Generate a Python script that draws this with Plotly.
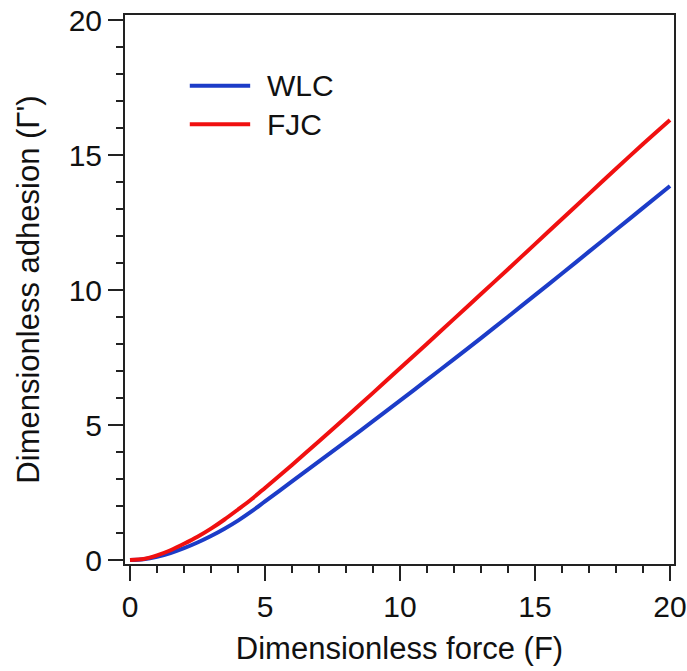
import plotly.graph_objects as go

# Dimensionless force F (sample points along the curves)
force = [0, 0.5, 1, 1.5, 2, 2.5, 3, 3.5, 4, 4.5, 5, 6, 7, 8, 9, 10,
         11, 12, 13, 14, 15, 16, 17, 18, 19, 20]

# Dimensionless adhesion for the worm-like chain model
wlc = [0, 0.03, 0.12, 0.26, 0.44, 0.65, 0.89, 1.16, 1.46, 1.8, 2.17, 2.91, 3.65, 4.39, 5.14, 5.9,
       6.67, 7.44, 8.22, 9.01, 9.81, 10.61, 11.42, 12.23, 13.04, 13.85]

# Dimensionless adhesion for the freely jointed chain model
fjc = [0, 0.04, 0.17, 0.36, 0.6, 0.86, 1.16, 1.5, 1.87, 2.25, 2.67, 3.52, 4.4, 5.29, 6.19, 7.1,
       8.01, 8.93, 9.85, 10.77, 11.7, 12.63, 13.56, 14.49, 15.41, 16.3]

series_names = ["WLC", "FJC"]
series_colors = ["#1c3cc8", "#f01010"]

x_ticks = [0, 5, 10, 15, 20]
y_ticks = [0, 5, 10, 15, 20]

FONT = "Liberation Sans, Arial, sans-serif"

fig = go.Figure()
for name, vals, col in zip(series_names, [wlc, fjc], series_colors):
    fig.add_trace(go.Scatter(
        x=force, y=vals, mode="lines", name=name,
        line=dict(color=col, width=4, shape="spline", smoothing=0.8),
        showlegend=False,
    ))

axis_common = dict(
    showline=True, linecolor="#222222", linewidth=2, mirror=True,
    ticks="outside", ticklen=15, tickwidth=2, tickcolor="#222222",
    minor=dict(ticks="outside", ticklen=7, tickwidth=2, tickcolor="#222222", dtick=1),
    showgrid=False, zeroline=False,
    tickfont=dict(family=FONT, size=30, color="#111111"),
)

fig.update_xaxes(
    range=[-5 / 27, 20 + 4 / 27], tickvals=x_ticks,
    title=dict(text="Dimensionless force (F)", font=dict(family=FONT, size=31, color="#111111"),
               standoff=15),
    **axis_common,
)
fig.update_yaxes(
    range=[-4 / 27, 20 + 5 / 27], tickvals=y_ticks,
    title=dict(text="Dimensionless adhesion (Γ')", font=dict(family=FONT, size=31, color="#111111"),
               standoff=20),
    **axis_common,
)

# Hand-drawn legend: a short line sample plus a label for each series
legend_y = [0.871, 0.801]
for name, col, yy in zip(series_names, series_colors, legend_y):
    fig.add_shape(type="line", xref="paper", yref="paper",
                  x0=0.118, x1=0.228, y0=yy, y1=yy,
                  line=dict(color=col, width=4))
    fig.add_annotation(xref="paper", yref="paper", x=0.255, y=yy,
                       text=name, showarrow=False, xanchor="left", yanchor="middle",
                       font=dict(family=FONT, size=30, color="#111111"))

fig.update_layout(
    width=687, height=671,
    margin=dict(l=125, r=13, t=15, b=107, autoexpand=False),
    plot_bgcolor="white", paper_bgcolor="white",
)

fig.write_html("out.html")
